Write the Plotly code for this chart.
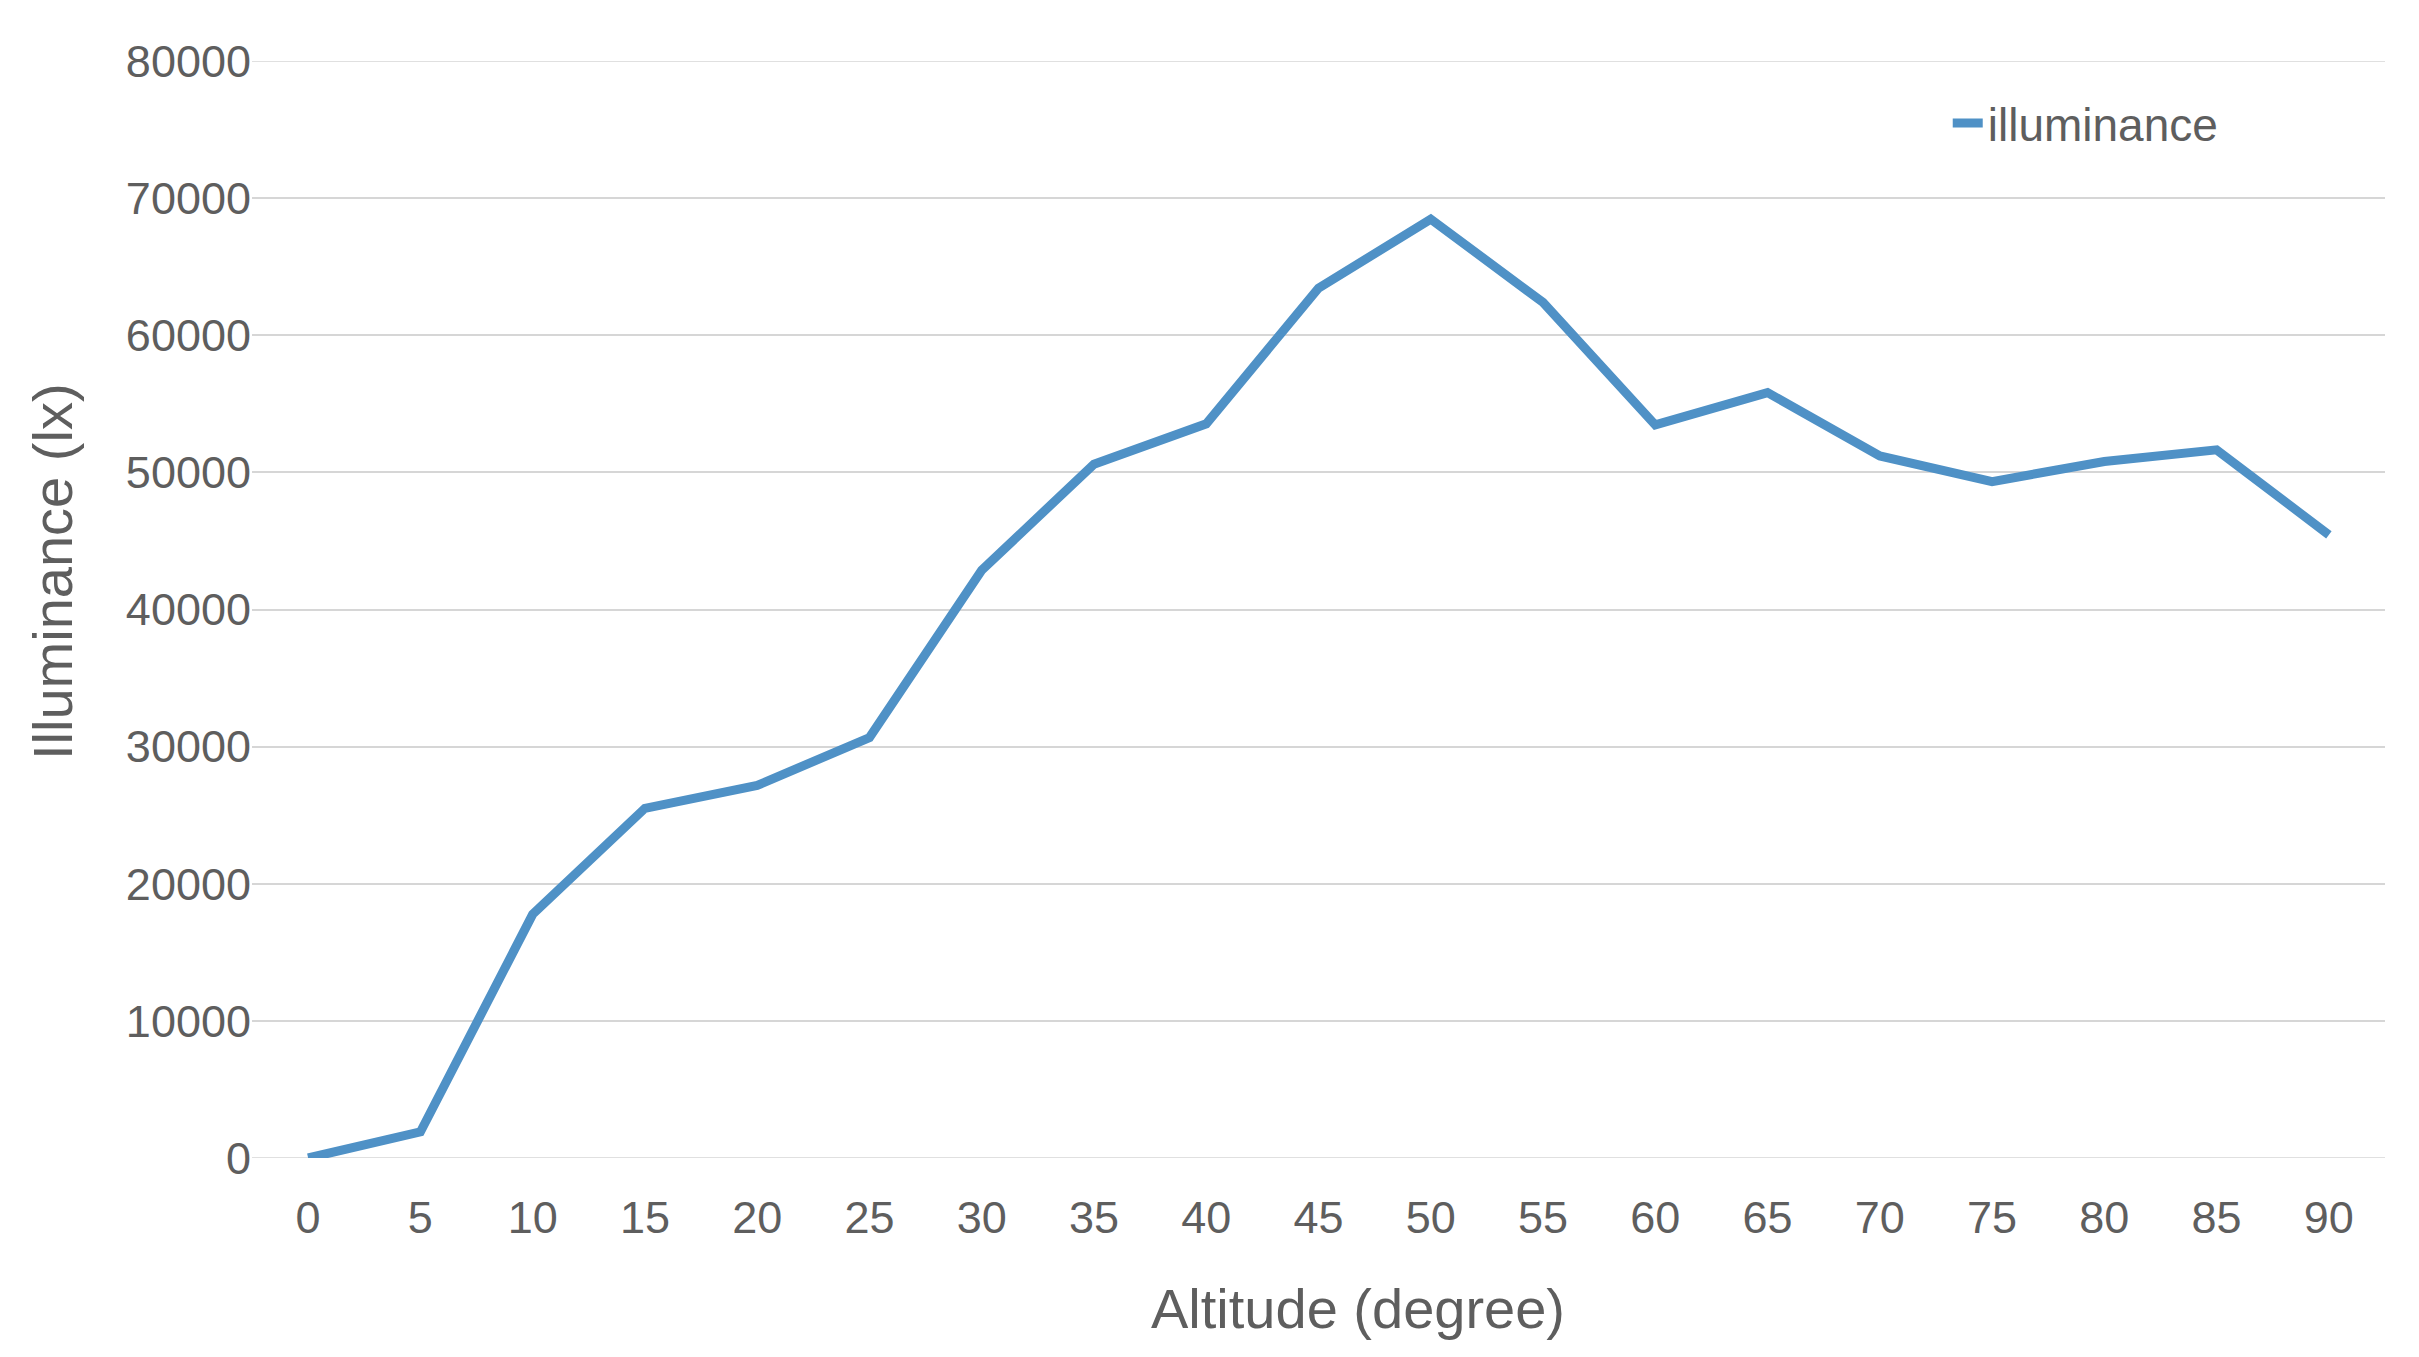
import plotly.graph_objects as go

altitude = [0, 5, 10, 15, 20, 25, 30, 35, 40, 45, 50, 55, 60, 65, 70, 75, 80, 85, 90]
illuminance = [0, 1900, 17770, 25500, 27170, 30660, 42860, 50600, 53540, 63430,
               68470, 62390, 53460, 55820, 51200, 49330, 50790, 51640, 45440]
y_ticks = [0, 10000, 20000, 30000, 40000, 50000, 60000, 70000, 80000]

FONT = "Liberation Sans, Arial, Helvetica, sans-serif"
GRAY = "#5E5E5E"
W, H = 2419, 1357
L, R, T, B = 252, 34, 61, 199

fig = go.Figure()
fig.add_trace(go.Scatter(
    x=altitude, y=illuminance, mode="lines", name="illuminance",
    line=dict(color="#4F91C6", width=9),
))

# zero gridline and top gridline drawn as shapes across plot area
for v in (y_ticks[0], y_ticks[-1]):
    fig.add_shape(type="line", xref="paper", yref="y", x0=0, x1=1, y0=v, y1=v,
                  line=dict(color="#D6D6D6", width=1.5), layer="below")

fig.add_annotation(text="Altitude (degree)", xref="paper", yref="paper",
                   x=(1358 - L) / (W - L - R), y=-(1308 - (H - B)) / (H - T - B),
                   xanchor="center", yanchor="middle", showarrow=False,
                   font=dict(size=56, color=GRAY, family=FONT))
fig.add_annotation(text="Illuminance (lx)", xref="paper", yref="paper",
                   x=-(L - 52) / (W - L - R), y=1 - (572 - T) / (H - T - B),
                   xanchor="center", yanchor="middle", textangle=-90, showarrow=False,
                   font=dict(size=56, color=GRAY, family=FONT))

fig.update_layout(
    width=W, height=H,
    margin=dict(l=L, r=R, t=T, b=B, autoexpand=False),
    paper_bgcolor="white", plot_bgcolor="white",
    font=dict(family=FONT, color=GRAY, size=45),
    showlegend=True,
    legend=dict(x=0.795, y=0.9435, xanchor="left", yanchor="middle",
                bgcolor="rgba(0,0,0,0)", font=dict(size=46, color=GRAY),
                itemwidth=30),
    xaxis=dict(
        range=[-2.5, 92.5], tickmode="array", tickvals=altitude,
        ticktext=[str(a) for a in altitude],
        showgrid=False, zeroline=False, showline=False,
        ticks="", ticklabelstandoff=29,
        tickfont=dict(size=45, color=GRAY),
    ),
    yaxis=dict(
        range=[0, 80000], tickmode="array", tickvals=y_ticks,
        ticktext=[str(v) for v in y_ticks],
        showgrid=True, gridcolor="#D6D6D6", gridwidth=1.5,
        zeroline=False, showline=False, ticks="",
        tickfont=dict(size=45, color=GRAY),
    ),
)

fig.write_html("out.html", config={"displayModeBar": False},
               post_script="document.body.style.margin='0';document.body.style.overflow='hidden';")
